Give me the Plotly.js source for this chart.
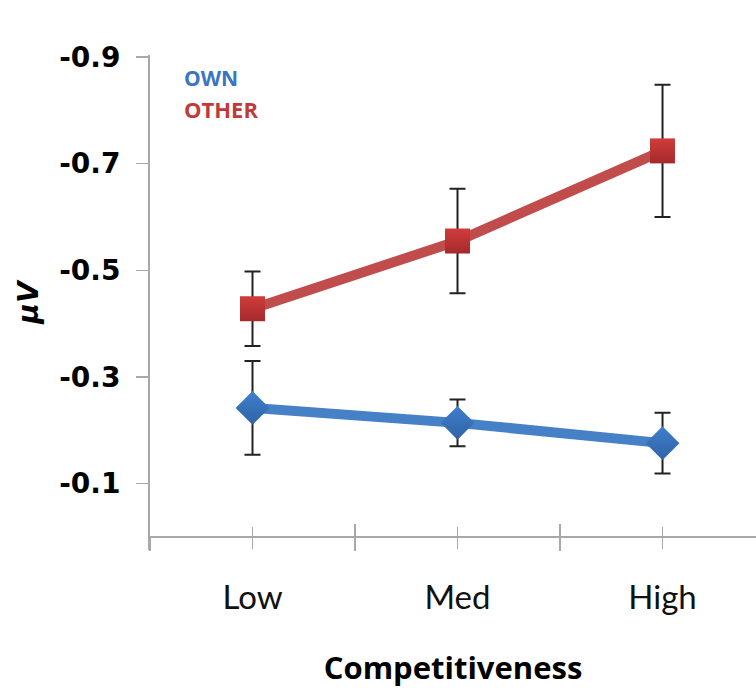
<!DOCTYPE html>
<html>
<head>
<meta charset="utf-8">
<script src="https://cdn.plot.ly/plotly-3.0.1.min.js"></script>
<style>html,body{margin:0;padding:0;background:#fff;}</style>
</head>
<body>
<div id="chart" style="width:756px;height:690px;"></div>
<script>
const categories = ['Low', 'Med', 'High'];
const ownValues = [-0.242, -0.214, -0.176];
const ownErrors = [0.088, 0.044, 0.057];
const otherValues = [-0.428, -0.555, -0.724];
const otherErrors = [0.070, 0.098, 0.124];
const yTickVals = [-0.9, -0.7, -0.5, -0.3, -0.1];
const yTickText = ['-0.9', '-0.7', '-0.5', '-0.3', '-0.1'];

const xIdx = categories.map((c, i) => i);

const traces = [
  {
    x: xIdx, y: ownValues, name: 'OWN', type: 'scatter', mode: 'lines+markers',
    line: {color: '#4680c6', width: 10},
    marker: {symbol: 'diamond', size: 26, color: '#3f7fcc', gradient: {type: 'vertical', color: '#2f63a6'}},
    error_y: {type: 'data', array: ownErrors, visible: true, color: '#222', thickness: 2, width: 8}
  },
  {
    x: xIdx, y: otherValues, name: 'OTHER', type: 'scatter', mode: 'lines+markers',
    line: {color: '#c04c4b', width: 10},
    marker: {symbol: 'square', size: 25, color: '#d03c3c', gradient: {type: 'vertical', color: '#a52a2b'}},
    error_y: {type: 'data', array: otherErrors, visible: true, color: '#222', thickness: 2, width: 8}
  },
  {
    x: xIdx, y: ownValues, xaxis: 'x2', yaxis: 'y', mode: 'none', type: 'scatter',
    hoverinfo: 'skip', showlegend: false
  }
];

const axisColor = '#a8a8a8';
const xPos = 13 / 495;

const layout = {
  width: 756, height: 690,
  margin: {l: 150, r: 0, t: 55, b: 140},
  paper_bgcolor: '#fff', plot_bgcolor: '#fff',
  showlegend: false,
  xaxis: {
    range: [-0.5, 2.456], anchor: 'free', position: xPos,
    tickmode: 'array', tickvals: xIdx, ticktext: categories,
    ticks: 'outside', ticklen: 11, tickwidth: 1.5, tickcolor: axisColor,
    minor: {tickmode: 'linear', tick0: -0.5, dtick: 1, ticks: 'outside', ticklen: 13, tickwidth: 1.5, tickcolor: axisColor},
    showline: true, linecolor: axisColor, linewidth: 2,
    showgrid: false, zeroline: false,
    tickfont: {family: 'Lato, sans-serif', size: 33, color: '#111'},
    ticklabelstandoff: 20,
    title: {text: '<b>Competitiveness</b>', font: {family: 'Open Sans, sans-serif', size: 31, color: '#000'}, standoff: 42}
  },
  xaxis2: {
    range: [-0.5, 2.456], overlaying: 'x', anchor: 'free', position: xPos,
    tickmode: 'array', tickvals: xIdx, showticklabels: false,
    ticks: 'inside', ticklen: 10, tickwidth: 1.5, tickcolor: axisColor,
    minor: {tickmode: 'linear', tick0: -0.5, dtick: 1, ticks: 'inside', ticklen: 13, tickwidth: 1.5, tickcolor: axisColor},
    showline: false, showgrid: false, zeroline: false
  },
  yaxis: {
    range: [0.0244, -0.9038],
    tickmode: 'array', tickvals: yTickVals, ticktext: yTickText,
    ticks: 'outside', ticklen: 12, tickwidth: 1.5, tickcolor: axisColor,
    showline: true, linecolor: axisColor, linewidth: 2,
    showgrid: false, zeroline: false,
    tickfont: {family: 'DejaVu Sans, sans-serif', size: 28, color: '#000', weight: 'bold'},
    ticklabelstandoff: 10,
    title: {text: '<b><i>μV</i></b>', font: {family: 'DejaVu Sans, sans-serif', size: 28, color: '#000'}, standoff: 12}
  },
  annotations: [
    {xref: 'paper', yref: 'paper', x: (182 - 150) / 606, y: (550 - 78) / 495, xanchor: 'left', yanchor: 'middle',
     text: '<b>OWN</b>', showarrow: false, font: {family: 'Open Sans, sans-serif', size: 21, color: '#3a74c2'}},
    {xref: 'paper', yref: 'paper', x: (182 - 150) / 606, y: (550 - 109) / 495, xanchor: 'left', yanchor: 'middle',
     text: '<b>OTHER</b>', showarrow: false, font: {family: 'Open Sans, sans-serif', size: 22, color: '#c13a3b'}}
  ]
};

Plotly.newPlot('chart', traces, layout, {displayModeBar: false, staticPlot: true});
</script>
</body>
</html>
